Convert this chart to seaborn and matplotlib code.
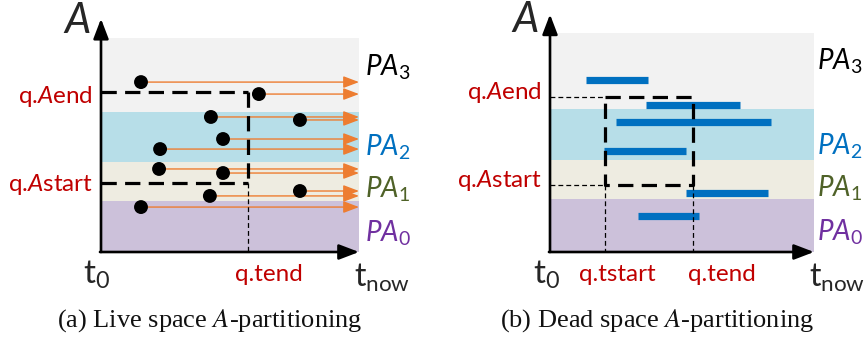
import matplotlib
matplotlib.use("Agg")
import matplotlib.pyplot as plt
import seaborn as sns
import pandas as pd
from matplotlib.transforms import blended_transform_factory

# Attribute partitions (A axis runs 0..100), bottom to top
band_edges = [0, 24, 42, 65.4, 100]
band_colors = ["#CCC1DA", "#EEECE1", "#B7DEE8", "#F2F2F2"]
band_labels = [r"$\mathit{PA}_{\mathrm{0}}$", r"$\mathit{PA}_{\mathrm{1}}$",
               r"$\mathit{PA}_{\mathrm{2}}$", r"$\mathit{PA}_{\mathrm{3}}$"]
band_label_colors = ["#7030A0", "#4F6228", "#0070C0", "#000000"]

# (a) live objects: start time and attribute value (still alive at t_now)
live_t = [15.5, 61.2, 42.6, 77.1, 47.3, 22.9, 22.5, 47.3, 77.1, 42.2, 15.5]
live_a = [79.4, 73.8, 63.1, 61.7, 52.8, 48.1, 38.8, 36.9, 28.5, 26.2, 21.0]
live_q_tend = 57.0
live_q_astart = 32.2
live_q_aend = 74.8

# (b) dead objects: lifetime interval and attribute value
dead_tstart = [13.6, 36.4, 25.0, 20.5, 51.5, 33.3]
dead_tend = [37.1, 72.0, 83.7, 51.5, 82.6, 56.4]
dead_a = [78.5, 67.1, 59.4, 46.1, 26.9, 16.4]
dead_q_tstart = 20.8
dead_q_tend = 54.2
dead_q_astart = 30.6
dead_q_aend = 70.8

captions = ["(a) Live space $A$-partitioning", "(b) Dead space $A$-partitioning"]

sns.set_theme(style="white")
plt.rcParams.update({
    "font.family": ["Lato", "DejaVu Sans"],
    "mathtext.fontset": "custom",
    "mathtext.rm": "Lato",
    "mathtext.it": "Lato:italic",
    "lines.scale_dashes": False,
})

W, H = 868, 340
fig = plt.figure(figsize=(W / 100, H / 100), dpi=100)
fig.patch.set_facecolor("white")

RED = "#C00000"
ORANGE = "#ED7D31"
BLUE = "#0070C0"


def px(x, y):
    return x / W, 1 - y / H


def make_axes(x0, x1, ytop, ybot):
    ax = fig.add_axes([x0 / W, 1 - ybot / H, (x1 - x0) / W, (ybot - ytop) / H])
    ax.set_xlim(0, 100)
    ax.set_ylim(0, 100)
    ax.set_facecolor("none")
    for s in ax.spines.values():
        s.set_visible(False)
    ax.set_xticks([])
    ax.set_yticks([])
    for lo, hi, c in zip(band_edges[:-1], band_edges[1:], band_colors):
        ax.axhspan(lo, hi, color=c, lw=0, zorder=0)
    return ax


def axis_arrows(ax, ytip):
    kw = dict(arrowstyle="-|>,head_length=1.1,head_width=0.42", color="black",
              lw=1.9, mutation_scale=11, shrinkA=0, shrinkB=0)
    ax.annotate("", xy=(0, ytip), xytext=(0, 0), xycoords="axes fraction",
                arrowprops=kw, annotation_clip=False, zorder=6)
    ax.annotate("", xy=(1, 0), xytext=(-0.004, 0), xycoords="axes fraction",
                arrowprops=kw, annotation_clip=False, zorder=6)


def band_names(ax, xfrac, ys):
    tr = blended_transform_factory(ax.transAxes, ax.transData)
    for y, lab, c in zip(ys, band_labels, band_label_colors):
        ax.text(xfrac, y, lab, transform=tr, color=c, fontsize=20,
                ha="left", va="center", clip_on=False)


def a_label(ax, y, text, dy):
    tr = blended_transform_factory(ax.transAxes, ax.transData)
    ax.annotate(text, xy=(0, y), xycoords=tr, xytext=(-6, dy),
                textcoords="offset points", ha="right", va="center",
                color=RED, fontsize=17.5, annotation_clip=False)


def t_label(ax, x, text, dx):
    tr = blended_transform_factory(ax.transData, ax.transAxes)
    ax.annotate(text, xy=(x, 0), xycoords=tr, xytext=(dx, -16),
                textcoords="offset points", ha="center", va="center",
                color=RED, fontsize=17.5, annotation_clip=False)


thick = dict(color="black", lw=2.3, ls=(0, (11, 6)), dash_capstyle="butt", zorder=4)
thin = dict(color="black", lw=0.9, ls=(0, (3.5, 2.2)), zorder=4)

# ---------------- (a) live space ----------------
ax1 = make_axes(101, 359, 38, 252)
for t, a in zip(live_t, live_a):
    ax1.annotate("", xy=(100, a), xytext=(t, a),
                 arrowprops=dict(arrowstyle="-|>,head_length=0.95,head_width=0.36",
                                 color=ORANGE, lw=1.0, mutation_scale=10,
                                 shrinkA=0, shrinkB=0), zorder=3)
live_df = pd.DataFrame({"t": live_t, "A": live_a})
sns.scatterplot(data=live_df, x="t", y="A", ax=ax1, color="black", s=100,
                edgecolor="none", zorder=5, legend=False)
ax1.plot([0, live_q_tend], [live_q_aend, live_q_aend], **thick)
ax1.plot([0, live_q_tend], [live_q_astart, live_q_astart], **thick)
ax1.plot([live_q_tend, live_q_tend], [live_q_aend, live_q_astart], **thick)
ax1.plot([live_q_tend, live_q_tend], [live_q_astart, 0], **thin)
axis_arrows(ax1, 1.09)
ax1.set_xlabel("")
ax1.set_ylabel("")
band_names(ax1, 1.025, [8.9, 29.4, 49.0, 86.4])
a_label(ax1, live_q_aend, r"q.$\mathit{A}$end", -3)
a_label(ax1, live_q_astart, r"q.$\mathit{A}$start", -1)
t_label(ax1, live_q_tend, "q.tend", 15)

# ---------------- (b) dead space ----------------
ax2 = make_axes(550, 814, 33, 252)
dead_df = pd.DataFrame({"ts": dead_tstart, "te": dead_tend, "A": dead_a})
for _, r in dead_df.iterrows():
    sns.lineplot(x=[r.ts, r.te], y=[r.A, r.A], ax=ax2, color=BLUE, lw=5.2,
                 solid_capstyle="butt", zorder=3, legend=False)
ax2.plot([0, dead_q_tstart], [dead_q_aend, dead_q_aend], **thin)
ax2.plot([0, dead_q_tstart], [dead_q_astart, dead_q_astart], **thin)
ax2.plot([dead_q_tstart, dead_q_tend, dead_q_tend, dead_q_tstart, dead_q_tstart],
         [dead_q_aend, dead_q_aend, dead_q_astart, dead_q_astart, dead_q_aend], **thick)
ax2.plot([dead_q_tstart, dead_q_tstart], [dead_q_astart, 0], **thin)
ax2.plot([dead_q_tend, dead_q_tend], [dead_q_astart, 0], **thin)
axis_arrows(ax2, 1.085)
ax2.set_xlabel("")
ax2.set_ylabel("")
band_names(ax2, 1.012, [9.1, 29.2, 48.4, 87.2])
a_label(ax2, dead_q_aend, r"q.$\mathit{A}$end", 3)
a_label(ax2, dead_q_astart, r"q.$\mathit{A}$start", 3)
t_label(ax2, dead_q_tstart, "q.tstart", 9)
t_label(ax2, dead_q_tend, "q.tend", 21)

# axis names
for (ax_x, ay_x), (t0x, tnx) in [((77, 21), (97, 382)), ((525, 20), (547, 837))]:
    fig.text(*px(ax_x, ay_x), r"$\mathit{A}$", fontsize=30, ha="center", va="center")
    fig.text(*px(t0x, 275), r"t$_{\mathrm{0}}$", fontsize=24, ha="center", va="center")
    fig.text(*px(tnx, 278), r"t$_{\mathrm{now}}$", fontsize=23, ha="center", va="center")

# captions
for cx, cap in zip([210, 657], captions):
    fig.text(*px(cx, 321), cap, fontsize=19, ha="center", va="center",
             family=["Liberation Serif", "DejaVu Serif"], math_fontfamily="stix",
             color="#111111")

fig.savefig("out.png", dpi=100, facecolor="white")
